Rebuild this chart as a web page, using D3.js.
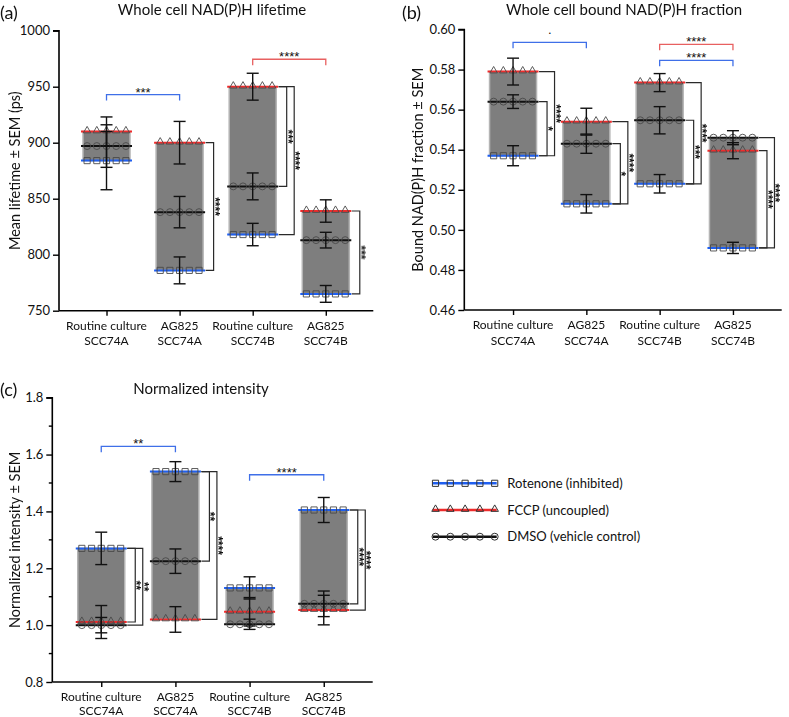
<!DOCTYPE html>
<html><head><meta charset="utf-8">
<script src="https://cdn.jsdelivr.net/npm/d3@7"></script>
<style>body{margin:0;background:#fff} text{font-family:Lato,"Open Sans",sans-serif;fill:#111}</style>
</head><body><svg id="chart" width="789" height="717"></svg>
<script>
// ---------- data ----------
const catLine1 = ["Routine culture", "AG825", "Routine culture", "AG825"];
const catLine2 = ["SCC74A", "SCC74A", "SCC74B", "SCC74B"];
const seriesNames = ["Rotenone (inhibited)", "FCCP (uncoupled)", "DMSO (vehicle control)"];

// (a) Whole cell NAD(P)H lifetime (ps)
const lifetimeRotenone = [884, 786, 818, 765];
const lifetimeRotenoneSEM = [26, 12, 10, 7.5];
const lifetimeFCCP = [910, 900, 950, 839];
const lifetimeFCCPSEM = [13, 19, 12, 10];
const lifetimeDMSO = [897, 838, 861, 813];
const lifetimeDMSOSEM = [19, 14, 12, 7];
const lifetimeTicks = [750, 800, 850, 900, 950, 1000];

// (b) Whole cell bound NAD(P)H fraction
const boundRotenone = [0.537, 0.513, 0.523, 0.491];
const boundRotenoneSEM = [0.005, 0.0046, 0.0046, 0.0028];
const boundFCCP = [0.579, 0.554, 0.5735, 0.5395];
const boundFCCPSEM = [0.0067, 0.0067, 0.0045, 0.004];
const boundDMSO = [0.564, 0.543, 0.5547, 0.546];
const boundDMSOSEM = [0.0034, 0.0048, 0.0068, 0.0035];
const boundTicks = [0.46, 0.48, 0.50, 0.52, 0.54, 0.56, 0.58, 0.60];

// (c) Normalized intensity
const intensityRotenone = [1.27, 1.54, 1.131, 1.405];
const intensityRotenoneSEM = [0.057, 0.035, 0.039, 0.044];
const intensityFCCP = [1.011, 1.02, 1.047, 1.053];
const intensityFCCPSEM = [0.058, 0.045, 0.05, 0.052];
const intensityDMSO = [1.0, 1.225, 1.003, 1.075];
const intensityDMSOSEM = [0.027, 0.043, 0.018, 0.045];
const intensityTicks = [0.8, 1.0, 1.2, 1.4, 1.6, 1.8];
const intensityMinorTicks = [0.9, 1.1, 1.3, 1.5, 1.7];

// significance between categories: [catA, catB, series, label, level(data units)]
const lifetimeBetween = [[0, 1, 0, "***", 943], [2, 3, 1, "****", 974.5]];
const boundBetween = [[0, 1, 0, ".", 0.5936], [2, 3, 1, "****", 0.5926], [2, 3, 0, "****", 0.5846]];
const intensityBetween = [[0, 1, 0, "**", 1.629], [2, 3, 0, "****", 1.529]];
// significance within category: [cat, seriesA, seriesB, slot, label]
const lifetimeWithin = [[1, 1, 0, 0, "****"], [2, 1, 2, 0, "***"], [2, 1, 0, 1, "****"], [3, 1, 0, 0, "***"]];
const boundWithin = [[0, 2, 0, 0, "*"], [0, 1, 0, 1, "****"], [1, 2, 0, 0, "*"], [1, 1, 0, 1, "****"],
                     [2, 2, 0, 0, "***"], [2, 1, 0, 1, "****"], [3, 1, 0, 0, "****"], [3, 2, 0, 1, "****"]];
const intensityWithin = [[0, 0, 1, 0, "**"], [0, 0, 2, 1, "**"], [1, 0, 2, 0, "**"], [1, 0, 1, 1, "****"],
                         [3, 0, 2, 0, "****"], [3, 0, 1, 1, "****"]];

// ---------- drawing ----------
const svg = d3.select("#chart");
const lineColors = ["#1f5ff0", "#ee2b2b", "#111111"];
const bracketColors = ["#3f6fe8", "#e86060"];
const symbols = [d3.symbolSquare, d3.symbolTriangle, d3.symbolCircle];
const symSizes = [38, 24, 38];
const starFont = "'Liberation Sans', Arial, sans-serif";

function drawPanel(o) {
  const g = svg.append("g");
  const x = d3.scalePoint().domain(d3.range(catLine1.length)).range([o.x0, o.x1]).padding(o.pad);
  const y = d3.scaleLinear().domain(o.domain).range([o.yBot, o.yTop]);
  const series = [o.rot, o.fccp, o.dmso];
  const sems = [o.rotS, o.fccpS, o.dmsoS];

  // bars
  catLine1.forEach((c, i) => {
    const vals = series.map(s => s[i]);
    const lo = d3.min(vals), hi = d3.max(vals);
    g.append("rect").attr("x", x(i) - 23.5).attr("width", 47)
      .attr("y", y(hi)).attr("height", y(lo) - y(hi))
      .attr("fill", "#7e7e7e").attr("stroke", "#b4b4b4").attr("stroke-width", 1.5);
  });
  // lines + markers
  series.forEach((s, k) => {
    s.forEach((v, i) => {
      g.append("line").attr("x1", x(i) - 25.5).attr("x2", x(i) + 25.5)
        .attr("y1", y(v)).attr("y2", y(v)).attr("stroke", lineColors[k]).attr("stroke-width", 2);
      [-19.4, -9.7, 0, 9.7, 19.4].forEach(dx => {
        g.append("path").attr("d", d3.symbol(symbols[k], symSizes[k])())
          .attr("transform", `translate(${x(i) + dx},${y(v) + (k === 1 ? -0.8 : 0)})`)
          .attr("fill", "none").attr("stroke", "#4a4a4a").attr("stroke-width", 0.9);
      });
    });
  });
  // error bars
  series.forEach((s, k) => {
    s.forEach((v, i) => {
      const e = sems[k][i], cx = x(i);
      const eb = g.append("g").attr("stroke", "#111").attr("stroke-width", 1.4);
      eb.append("line").attr("x1", cx).attr("x2", cx).attr("y1", y(v + e)).attr("y2", y(v - e));
      [v + e, v - e].forEach(t => eb.append("line").attr("x1", cx - 6).attr("x2", cx + 6).attr("y1", y(t)).attr("y2", y(t)));
    });
  });
  // between-category brackets
  o.between.forEach(([a, b, sk, lab, lev]) => {
    const yl = y(lev);
    g.append("path").attr("d", `M${x(a)},${yl + 6}V${yl}H${x(b)}V${yl + 6}`)
      .attr("fill", "none").attr("stroke", bracketColors[sk]).attr("stroke-width", 1.3);
    g.append("text").attr("x", (x(a) + x(b)) / 2).attr("y", lab === "." ? yl - 8 : yl + 2)
      .attr("text-anchor", "middle").attr("font-size", 13).style("font-family", starFont).text(lab);
  });
  // within-category brackets
  const starLayer = g.append("g").attr("opacity", 0.995);
  o.within.forEach(([i, sa, sb, slot, lab]) => {
    const ya = y(series[sa][i]), yb = y(series[sb][i]);
    const bx = x(i) + 34 + 7.5 * slot, sx = x(i) + 26;
    g.append("path").attr("d", `M${sx},${ya}H${bx}V${yb}H${sx}`)
      .attr("fill", "none").attr("stroke", "#2a2a2a").attr("stroke-width", 1.2);
    const ym = (ya + yb) / 2;
    starLayer.append("text").attr("transform", `translate(${bx - 3},${ym}) rotate(90)`)
      .attr("text-anchor", "middle").attr("font-size", 12).attr("font-weight", "bold")
      .style("font-family", starFont).text(lab);
  });

  // axes
  const ay = g.append("g").attr("transform", `translate(${o.x0},0)`)
    .call(d3.axisLeft(y).tickValues(o.ticks).tickFormat(o.fmt).tickSize(6).tickPadding(3));
  if (o.minor) {
    ay.selectAll(null).data(o.minor).enter().append("line")
      .attr("x1", -3.5).attr("x2", 0).attr("y1", d => y(d)).attr("y2", d => y(d)).attr("stroke", "#000").attr("stroke-width", 1.4);
  }
  const ax = g.append("g").attr("transform", `translate(0,${o.yBot})`)
    .call(d3.axisBottom(x).tickSize(5).tickFormat(""));
  [ay, ax].forEach(a => {
    a.select(".domain").attr("stroke", "#000").attr("stroke-width", 1.6);
    a.selectAll(".tick line").attr("stroke", "#000").attr("stroke-width", 1.4);
  });
  ax.select(".domain").attr("d", `M${o.x0},0H${o.x1}`);
  ay.select(".domain").attr("d", `M-6,${o.yTop}H0V${o.yBot}`);
  ay.selectAll(".tick text").attr("font-size", 13).attr("fill", "#111").style("font-family", "Lato");
  catLine1.forEach((c, i) => {
    g.append("text").attr("x", x(i)).attr("y", o.yBot + 19).attr("text-anchor", "middle").attr("font-size", 12).text(c);
    g.append("text").attr("x", x(i)).attr("y", o.yBot + 19 + o.gap).attr("text-anchor", "middle").attr("font-size", 12).text(catLine2[i]);
  });
  // titles
  g.append("text").attr("x", o.titleX).attr("y", o.titleY).attr("text-anchor", "middle").attr("font-size", 15).text(o.title);
  g.append("text").attr("x", o.labX).attr("y", o.labY).attr("font-size", 18).text(o.lab);
  g.append("text").attr("transform", `translate(${o.ylabX},${(o.yTop + o.yBot) / 2}) rotate(-90)`)
    .attr("text-anchor", "middle").attr("font-size", 14.5).text(o.ylab);
}

drawPanel({
  x0: 59, x1: 373.3, yTop: 30.7, yBot: 310.7, pad: 0.65, domain: [750, 1000], gap: 15.5,
  rot: lifetimeRotenone, rotS: lifetimeRotenoneSEM, fccp: lifetimeFCCP, fccpS: lifetimeFCCPSEM,
  dmso: lifetimeDMSO, dmsoS: lifetimeDMSOSEM, ticks: lifetimeTicks, fmt: d3.format("d"),
  between: lifetimeBetween, within: lifetimeWithin,
  title: "Whole cell NAD(P)H lifetime", titleX: 212, titleY: 15, lab: "(a)", labX: 0, labY: 19,
  ylab: "Mean lifetime ± SEM (ps)", ylabX: 20
});
drawPanel({
  x0: 464.3, x1: 781.7, yTop: 29.5, yBot: 310, pad: 0.665, domain: [0.46, 0.60], gap: 15.5,
  rot: boundRotenone, rotS: boundRotenoneSEM, fccp: boundFCCP, fccpS: boundFCCPSEM,
  dmso: boundDMSO, dmsoS: boundDMSOSEM, ticks: boundTicks, fmt: d3.format(".2f"),
  between: boundBetween, within: boundWithin,
  title: "Whole cell bound NAD(P)H fraction", titleX: 624, titleY: 15, lab: "(b)", labX: 402, labY: 19,
  ylab: "Bound NAD(P)H fraction ± SEM", ylabX: 423
});
drawPanel({
  x0: 52.3, x1: 372.7, yTop: 397.7, yBot: 682, pad: 0.66, domain: [0.8, 1.8], gap: 13.5,
  rot: intensityRotenone, rotS: intensityRotenoneSEM, fccp: intensityFCCP, fccpS: intensityFCCPSEM,
  dmso: intensityDMSO, dmsoS: intensityDMSOSEM, ticks: intensityTicks, minor: intensityMinorTicks, fmt: d3.format(".1f"),
  between: intensityBetween, within: intensityWithin,
  title: "Normalized intensity", titleX: 201, titleY: 394, lab: "(c)", labX: 0, labY: 396,
  ylab: "Normalized intensity ± SEM", ylabX: 20
});

// legend
const leg = svg.append("g");
seriesNames.forEach((nm, k) => {
  const ly = 483.3 + k * 26.7;
  leg.append("line").attr("x1", 432.7).attr("x2", 496.7).attr("y1", ly).attr("y2", ly)
    .attr("stroke", lineColors[k]).attr("stroke-width", 2.4);
  d3.range(5).forEach(j => {
    leg.append("path").attr("d", d3.symbol(symbols[k], symSizes[k])())
      .attr("transform", `translate(${435.5 + j * 14.8},${ly + (k === 1 ? -0.8 : 0)})`)
      .attr("fill", "none").attr("stroke", "#333").attr("stroke-width", 1);
  });
  leg.append("text").attr("x", 507.3).attr("y", ly + 4.5).attr("font-size", 13).text(nm);
});
</script></body></html>
